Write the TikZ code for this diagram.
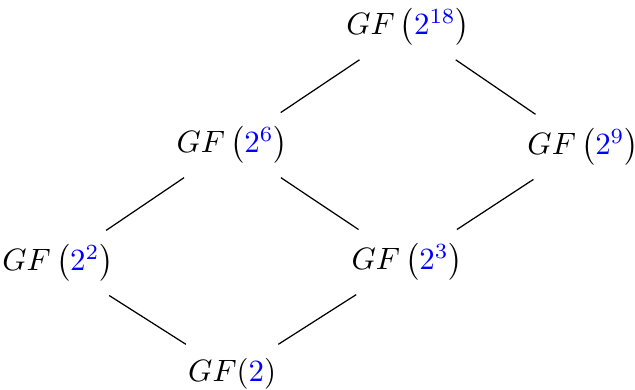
\documentclass[tikz,border=0pt]{standalone}
\usepackage{amsmath,amssymb}
\usepackage{xcolor}
\usepackage{tikz}

\begin{document}
\begin{tikzpicture}[fld/.style={outer sep=1.2pt}]
\useasboundingbox (-2.64,-0.18) rectangle (4.58,4.25);
\node[fld] (F1) at (0,0) {$GF(\textcolor{blue}{2})$};
\node[fld] (F2) at (-1.98,1.26) {$GF\left(\textcolor{blue}{2^2}\right)$};
\node[fld] (F3) at (1.99,1.27) {$GF\left(\textcolor{blue}{2^3}\right)$};
\node[fld] (F6) at (0,2.6) {$GF\left(\textcolor{blue}{2^6}\right)$};
\node[fld] (F9) at (3.99,2.58) {$GF\left(\textcolor{blue}{2^9}\right)$};
\node[fld] (F18) at (2,3.94) {$GF\left(\textcolor{blue}{2^{18}}\right)$};
\foreach \a/\b in {F18/F6,F18/F9,F6/F2,F6/F3,F9/F3,F2/F1,F3/F1}
  \draw (\a) -- (\b);
\end{tikzpicture}
\end{document}
